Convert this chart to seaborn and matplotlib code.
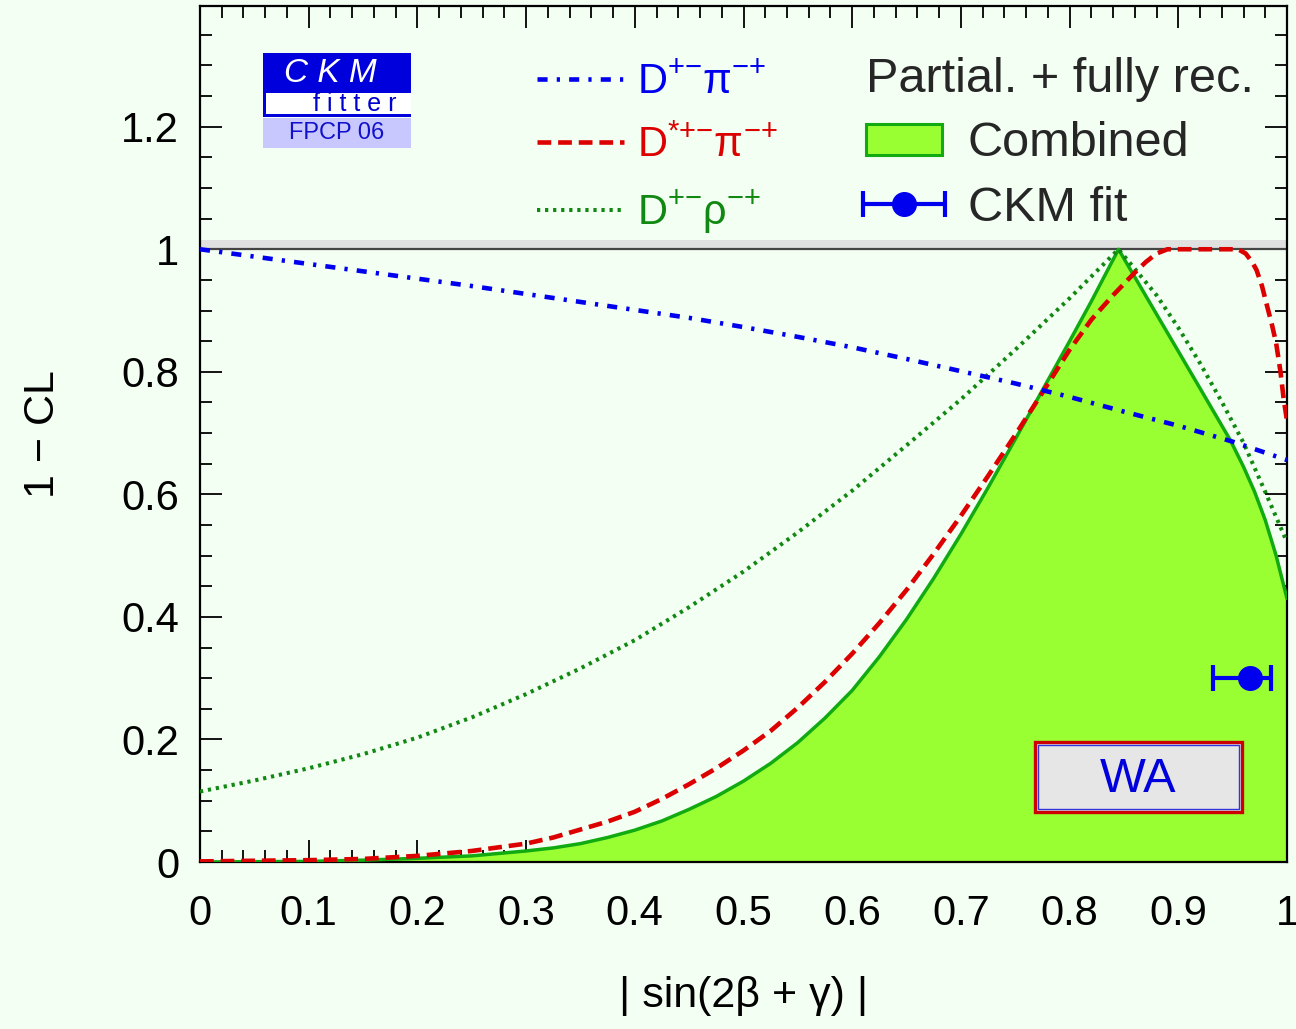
import matplotlib
matplotlib.use("Agg")
import matplotlib.pyplot as plt
from matplotlib.patches import Rectangle, Patch
from matplotlib.ticker import MultipleLocator, FuncFormatter
from matplotlib.legend_handler import HandlerErrorbar
from matplotlib.container import ErrorbarContainer
import seaborn as sns

# 1-CL scans versus |sin(2beta+gamma)|
x_dpi = [0.0, 0.05, 0.10, 0.15, 0.20, 0.25, 0.30, 0.35, 0.40, 0.45, 0.50,
         0.55, 0.60, 0.65, 0.70, 0.75, 0.80, 0.85, 0.90, 0.95, 1.00]
y_dpi = [1.000, 0.988, 0.976, 0.964, 0.952, 0.940, 0.927, 0.914, 0.901, 0.888, 0.873,
         0.857, 0.840, 0.821, 0.801, 0.781, 0.759, 0.735, 0.712, 0.686, 0.656]

x_dstpi = [0.0, 0.05, 0.10, 0.15, 0.20, 0.25, 0.30, 0.325, 0.35, 0.375, 0.40,
           0.425, 0.45, 0.475, 0.50, 0.525, 0.55, 0.575, 0.60, 0.625, 0.65,
           0.675, 0.70, 0.725, 0.75, 0.775, 0.80, 0.82, 0.84, 0.86, 0.87, 0.88,
           0.89, 0.955, 0.962, 0.968, 0.972, 0.977, 0.981, 0.986, 0.990,
           0.994, 0.997, 1.0]
y_dstpi = [0.001, 0.002, 0.003, 0.005, 0.010, 0.018, 0.030, 0.040, 0.053, 0.066, 0.082,
           0.103, 0.127, 0.153, 0.182, 0.214, 0.252, 0.294, 0.340, 0.390, 0.444,
           0.503, 0.565, 0.630, 0.697, 0.766, 0.836, 0.885, 0.925, 0.962, 0.979, 0.993,
           1.000, 1.000, 0.993, 0.979, 0.966, 0.940, 0.912, 0.878, 0.847,
           0.800, 0.755, 0.720]

x_drho = [0.0, 0.05, 0.10, 0.15, 0.20, 0.25, 0.30, 0.35, 0.40, 0.45, 0.50,
          0.55, 0.60, 0.65, 0.70, 0.75, 0.80, 0.845, 0.86, 0.88, 0.90, 0.92,
          0.94, 0.96, 0.98, 1.00]
y_drho = [0.115, 0.133, 0.153, 0.176, 0.203, 0.236, 0.274, 0.316, 0.362, 0.416, 0.474,
          0.538, 0.606, 0.680, 0.755, 0.836, 0.920, 1.000, 0.968, 0.925, 0.872, 0.814,
          0.751, 0.684, 0.604, 0.522]

x_comb = [0.0, 0.05, 0.10, 0.15, 0.20, 0.25, 0.30, 0.325, 0.35, 0.375, 0.40,
          0.425, 0.45, 0.475, 0.50, 0.525, 0.55, 0.575, 0.60, 0.625, 0.65,
          0.675, 0.70, 0.725, 0.75, 0.775, 0.80, 0.82, 0.845, 0.88, 0.92, 0.948,
          0.96, 0.97, 0.98, 0.99, 0.995, 1.0]
y_comb = [0.000, 0.0005, 0.001, 0.003, 0.006, 0.010, 0.018, 0.023, 0.030, 0.040, 0.052,
          0.067, 0.086, 0.107, 0.132, 0.161, 0.195, 0.235, 0.280, 0.335, 0.396,
          0.463, 0.535, 0.611, 0.690, 0.770, 0.850, 0.915, 1.000, 0.894, 0.773, 0.688,
          0.645, 0.605, 0.558, 0.500, 0.465, 0.430]

# CKM fit result with asymmetric error
ckm_x = 0.966
ckm_y = 0.30
ckm_err_lo = 0.034
ckm_err_hi = 0.019

labels = [r"$\mathregular{D^{+{-}}\pi^{-{+}}}$",
          r"$\mathregular{D^{*{+}{-}}\pi^{-{+}}}$",
          r"$\mathregular{D^{+{-}}\rho^{-{+}}}$"]
comb_title = "Partial. + fully rec."
comb_labels = ["Combined", "CKM fit"]
x_ticks_step, y_ticks_step = 0.1, 0.2

BLUE = "#0000EE"
RED = "#DD0000"
DGREEN = "#118811"
LGREEN = "#11AA11"
FILL = "#99FF33"
BG = "#F2FFF2"

sns.set_theme(style="ticks")
plt.rcParams["font.family"] = ["Liberation Sans", "DejaVu Sans"]
plt.rcParams["mathtext.fontset"] = "custom"
plt.rcParams["mathtext.rm"] = "Liberation Sans"
plt.rcParams["mathtext.it"] = "Liberation Sans:italic"
plt.rcParams["mathtext.bf"] = "Liberation Sans:bold"

W, H = 1296, 1029
fig = plt.figure(figsize=(W / 100, H / 100), dpi=100, facecolor=BG)
ax = fig.add_axes([200 / W, 1 - 862 / H, 1087 / W, 856 / H])
ax.set_facecolor(BG)
ax.set_xlim(0, 1)
ax.set_ylim(0, 1.397)

# band marking 1-CL = 1
ax.axhspan(1.0, 1.015, color="#E0E0E0", lw=0, zorder=1)
ax.axhline(1.0, color="#444444", lw=1.6, zorder=1.2)

ax.fill_between(x_comb, y_comb, 0, color=FILL, lw=0, zorder=1.5)
sns.lineplot(x=x_comb, y=y_comb, ax=ax, color=LGREEN, lw=2.5,
             sort=False, estimator=None, zorder=3)
sns.lineplot(x=x_drho, y=y_drho, ax=ax, color=DGREEN, lw=2.9,
             linestyle=(0, (0.8, 1.2)), sort=False, estimator=None, zorder=4)
sns.lineplot(x=x_dstpi, y=y_dstpi, ax=ax, color=RED, lw=3.3,
             linestyle=(0, (3.0, 1.5)), sort=False, estimator=None, zorder=5)
sns.lineplot(x=x_dpi, y=y_dpi, ax=ax, color=BLUE, lw=3.3,
             linestyle=(0, (2.2, 2.0, 0.7, 2.0)), sort=False, estimator=None, zorder=6)
line_comb, line_drho, line_dstpi, line_dpi = ax.lines[-4:]

eb = ax.errorbar([ckm_x], [ckm_y], xerr=[[ckm_err_lo], [ckm_err_hi]], fmt="o",
                 color=BLUE, ms=17, elinewidth=3, capsize=9.5, capthick=3, zorder=7)

# axes styling
for sp in ax.spines.values():
    sp.set_visible(True)
    sp.set_color("black")
    sp.set_linewidth(1.6)
ax.xaxis.set_major_locator(MultipleLocator(x_ticks_step))
ax.xaxis.set_minor_locator(MultipleLocator(0.02))
ax.yaxis.set_major_locator(MultipleLocator(y_ticks_step))
ax.yaxis.set_minor_locator(MultipleLocator(0.05))
fmt = FuncFormatter(lambda v, p: f"{v:g}")
ax.xaxis.set_major_formatter(fmt)
ax.yaxis.set_major_formatter(fmt)
ax.tick_params(which="both", direction="in", top=True, right=True,
               color="black", width=1.3, labelsize=30, labelcolor="black")
ax.tick_params(which="major", length=16)
ax.tick_params(which="minor", length=8.5)
ax.tick_params(axis="x", which="major", pad=23)
ax.tick_params(axis="y", which="major", pad=15)
ax.set_xlabel("| sin(2β + γ) |", fontsize=31, color="black", labelpad=30)
ax.set_ylabel("1 − CL", fontsize=31, color="black", labelpad=42)

# legends
leg1 = ax.legend([line_dpi, line_dstpi, line_drho], labels,
                 loc="upper left", bbox_to_anchor=(0.31, 0.934),
                 frameon=False, fontsize=30, handlelength=2.1,
                 handletextpad=0.3, labelspacing=0.55, borderpad=0,
                 borderaxespad=0, labelcolor=[BLUE, RED, DGREEN])
ax.add_artist(leg1)
comb_patch = Patch(facecolor=FILL, edgecolor=LGREEN, lw=2.2)
leg2 = ax.legend([comb_patch, eb], comb_labels, title=comb_title,
                 title_fontsize=35, alignment="left",
                 loc="upper left", bbox_to_anchor=(0.606, 0.949),
                 frameon=False, fontsize=35, handlelength=1.56,
                 handleheight=0.62, handletextpad=0.53, labelspacing=0.40,
                 borderpad=0.15, borderaxespad=0,
                 handler_map={ErrorbarContainer: HandlerErrorbar(xerr_size=0.85)})


def px_rect(x0, y0, x1, y1, **kw):
    r = Rectangle((x0 / W, 1 - y1 / H), (x1 - x0) / W, (y1 - y0) / H,
                  transform=fig.transFigure, **kw)
    fig.add_artist(r)
    return r


# CKMfitter logo
px_rect(263, 53, 411, 117, facecolor="#0000DD", lw=0)
px_rect(266, 93, 411, 114, facecolor="white", lw=0)
px_rect(263, 118, 411, 148, facecolor="#C8C8FF", lw=0)
fig.text(330 / W, 1 - 74 / H, "C K M", color="white", fontsize=24,
         style="italic", ha="center", va="center")
fig.text(397 / W, 1 - 104 / H, "f i t t e r", color="#0000CC", fontsize=18,
         ha="right", va="center")
fig.text(337 / W, 1 - 133 / H, "FPCP 06", color="#1111CC", fontsize=17,
         ha="center", va="center")

# WA box
px_rect(1035, 742, 1242, 812, facecolor="#E6E6E6", edgecolor="#CC0000", lw=2.4)
px_rect(1038, 745, 1239, 809, facecolor="none", edgecolor="#3333DD", lw=1.0)
fig.text(1138 / W, 1 - 779 / H, "WA", color="#0000DD", fontsize=35,
         ha="center", va="center")

fig.savefig("out.png", dpi=100, facecolor=BG)
